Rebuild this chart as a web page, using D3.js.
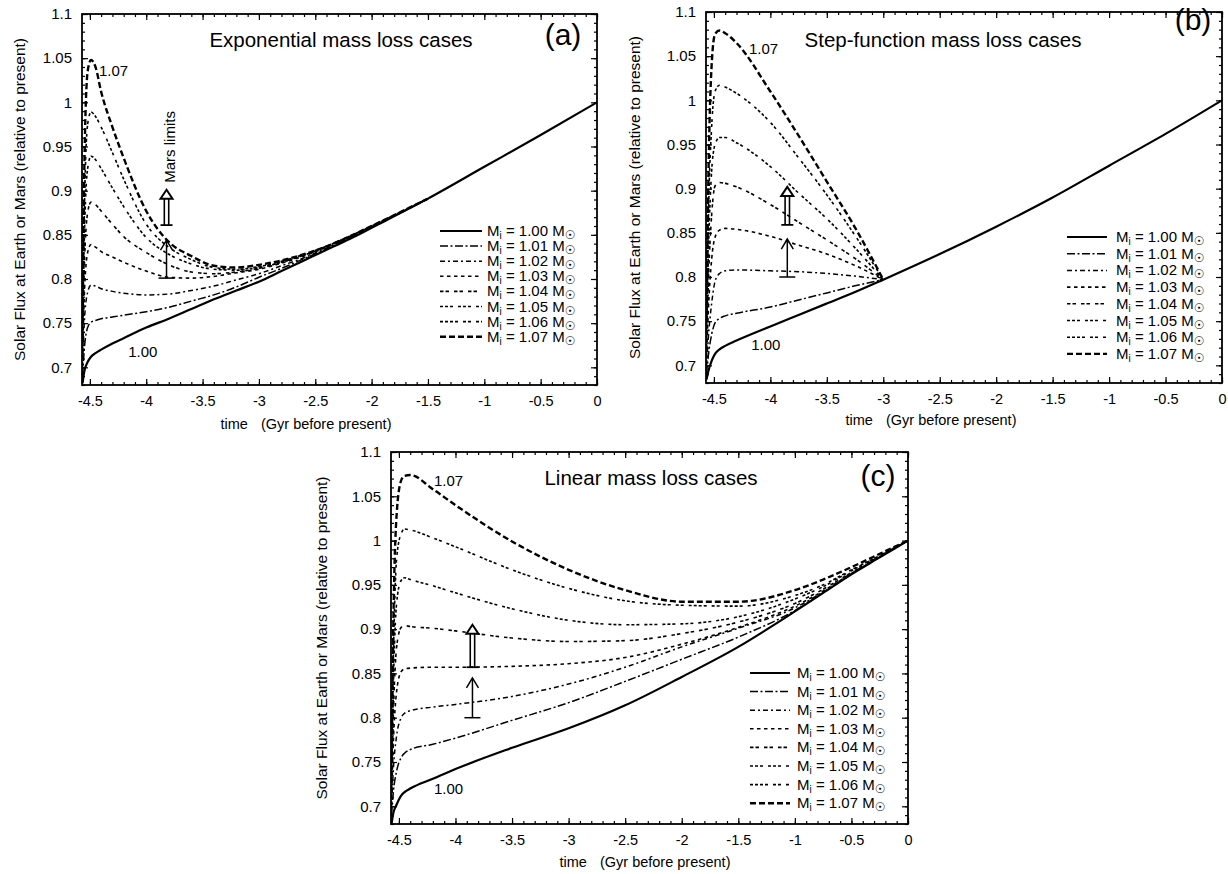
<!DOCTYPE html>
<html><head><meta charset="utf-8">
<script src="https://cdn.jsdelivr.net/npm/d3@7"></script>
<style>body{margin:0;background:#fff} text{font-family:"Liberation Sans",Arial,Helvetica,sans-serif;fill:#000}</style>
</head><body><svg id="c" width="1228" height="874"></svg>
<script>
// ---------- data ----------
const masses = ["1.00","1.01","1.02","1.03","1.04","1.05","1.06","1.07"];
const xTicks = [-4.5,-4,-3.5,-3,-2.5,-2,-1.5,-1,-0.5,0];
const xTickLabels = ["-4.5","-4","-3.5","-3","-2.5","-2","-1.5","-1","-0.5","0"];
const yTicks = [0.7,0.75,0.8,0.85,0.9,0.95,1,1.05,1.1];
const yTickLabels = ["0.7","0.75","0.8","0.85","0.9","0.95","1","1.05","1.1"];

// (a) exponential mass loss
const xA = [-4.565,-4.55,-4.52,-4.49,-4.45,-4.4,-4.3,-4.2,-4.0,-3.8,-3.6,-3.4,-3.2,-3.0,-2.8,-2.6,-2.4,-2.2,-2.0,-1.5,-1.0,-0.5,0];
const a100 = [0.682,0.695,0.706,0.712,0.716,0.720,0.727,0.733,0.745,0.755,0.766,0.777,0.787,0.797,0.809,0.821,0.833,0.845,0.858,0.891,0.927,0.963,1.000];
const a101 = [0.690,0.720,0.745,0.751,0.753,0.755,0.757,0.759,0.763,0.768,0.775,0.782,0.791,0.802,0.812,0.823,0.834,0.846,0.858,0.891,0.927,0.963,1.000];
const a102 = [0.700,0.750,0.785,0.793,0.792,0.789,0.786,0.784,0.782,0.783,0.787,0.792,0.799,0.806,0.815,0.824,0.835,0.847,0.859,0.891,0.927,0.963,1.000];
const a103 = [0.710,0.780,0.830,0.839,0.836,0.831,0.825,0.819,0.809,0.802,0.801,0.803,0.807,0.811,0.818,0.826,0.836,0.847,0.859,0.891,0.927,0.963,1.000];
const a104 = [0.720,0.810,0.875,0.887,0.884,0.877,0.862,0.848,0.830,0.816,0.808,0.806,0.808,0.812,0.819,0.827,0.837,0.848,0.859,0.891,0.927,0.963,1.000];
const a105 = [0.730,0.840,0.925,0.939,0.935,0.925,0.903,0.882,0.847,0.828,0.817,0.811,0.810,0.813,0.819,0.827,0.837,0.848,0.860,0.891,0.927,0.963,1.000];
const a106 = [0.740,0.870,0.975,0.989,0.984,0.972,0.943,0.913,0.862,0.836,0.822,0.813,0.811,0.814,0.820,0.828,0.837,0.848,0.860,0.891,0.927,0.963,1.000];
const a107 = [0.750,0.920,1.035,1.048,1.040,1.012,0.972,0.937,0.877,0.842,0.826,0.815,0.813,0.816,0.821,0.828,0.837,0.848,0.860,0.891,0.927,0.963,1.000];

// (b) step-function mass loss
const xB = [-4.565,-4.55,-4.52,-4.49,-4.45,-4.4,-4.3,-4.0,-3.75,-3.5,-3.25,-3.0,-2.5,-2.0,-1.5,-1.0,-0.5,0];
const b100 = [0.684,0.693,0.705,0.713,0.718,0.722,0.728,0.744,0.757,0.770,0.783,0.797,0.826,0.857,0.890,0.926,0.962,1.000];
const b101 = [0.690,0.710,0.735,0.748,0.753,0.756,0.759,0.766,0.774,0.782,0.790,0.797,0.826,0.857,0.890,0.926,0.962,1.000];
const b102 = [0.700,0.730,0.770,0.795,0.804,0.807,0.808,0.807,0.806,0.804,0.801,0.797,0.826,0.857,0.890,0.926,0.962,1.000];
const b103 = [0.710,0.760,0.820,0.845,0.853,0.855,0.854,0.846,0.836,0.826,0.813,0.797,0.826,0.857,0.890,0.926,0.962,1.000];
const b104 = [0.720,0.790,0.870,0.903,0.907,0.906,0.902,0.882,0.862,0.842,0.821,0.797,0.826,0.857,0.890,0.926,0.962,1.000];
const b105 = [0.730,0.820,0.920,0.950,0.958,0.958,0.952,0.925,0.895,0.866,0.833,0.797,0.826,0.857,0.890,0.926,0.962,1.000];
const b106 = [0.740,0.860,0.970,1.010,1.017,1.015,1.008,0.975,0.935,0.893,0.847,0.797,0.826,0.857,0.890,0.926,0.962,1.000];
const b107 = [0.750,0.900,1.040,1.075,1.079,1.076,1.065,1.010,0.960,0.908,0.856,0.797,0.826,0.857,0.890,0.926,0.962,1.000];

// (c) linear mass loss
const xC = [-4.565,-4.55,-4.52,-4.48,-4.45,-4.4,-4.2,-4.0,-3.5,-3.0,-2.5,-2.0,-1.5,-1.0,-0.75,-0.5,-0.25,0];
const c100 = [0.680,0.692,0.702,0.712,0.716,0.720,0.731,0.742,0.766,0.788,0.814,0.846,0.880,0.920,0.941,0.962,0.981,1.000];
const c101 = [0.690,0.715,0.740,0.755,0.760,0.764,0.770,0.777,0.797,0.817,0.841,0.866,0.891,0.921,0.941,0.962,0.981,1.000];
const c102 = [0.700,0.740,0.780,0.800,0.805,0.808,0.812,0.815,0.824,0.838,0.857,0.880,0.901,0.924,0.942,0.962,0.981,1.000];
const c103 = [0.710,0.770,0.830,0.852,0.855,0.856,0.857,0.857,0.858,0.861,0.868,0.883,0.902,0.926,0.943,0.963,0.981,1.000];
const c104 = [0.720,0.800,0.880,0.902,0.904,0.903,0.901,0.898,0.890,0.886,0.887,0.895,0.908,0.929,0.945,0.964,0.982,1.000];
const c105 = [0.730,0.830,0.930,0.955,0.958,0.956,0.949,0.941,0.923,0.910,0.905,0.906,0.914,0.934,0.948,0.966,0.983,1.000];
const c106 = [0.740,0.860,0.980,1.008,1.013,1.012,1.003,0.993,0.967,0.946,0.932,0.927,0.926,0.938,0.950,0.967,0.983,1.000];
const c107 = [0.750,0.900,1.030,1.068,1.073,1.074,1.058,1.040,0.999,0.967,0.944,0.931,0.931,0.944,0.956,0.970,0.985,1.000];

// arrow annotations (x, lower, upper) in data units
const arrowsA = {x:-3.82, d0:0.861, d1:0.901, s0:0.801, s1:0.844};
const arrowsB = {x:-3.85, d0:0.859, d1:0.902, s0:0.800, s1:0.843};
const arrowsC = {x:-3.85, d0:0.857, d1:0.905, s0:0.800, s1:0.845};

// ---------- styles ----------
const dashes = [null,"8,2.5,2,2.5","5,3,2,3","3.5,3.5","3.5,2,3.5,5","3,2,3,2,3,5","3,2,3,2,3,2,3,5,3,2,3,5","6,3"];
const widths = [2.2,1.5,1.5,1.6,1.6,1.6,1.6,2.4];

const svg = d3.select("#c");
svg.append("rect").attr("width",1228).attr("height",874).attr("fill","#fff");

const panels = [
  {key:"a", left:82, top:14, w:515, h:371, title:"Exponential mass loss cases", tx:259, ty:33, lab:"(a)", lx:481, ly:21,
   xs:xA, series:[a100,a101,a102,a103,a104,a105,a106,a107], leg:{lx0:358,lx1:400,tx:405,y0:217,dy:15.1},
   l107:[-4.42,1.03], l100:[-4.16,0.712], ar:arrowsA, mars:true, ylx:-57, xlx:224, xly:44},
  {key:"b", left:706, top:12, w:516, h:371, title:"Step-function mass loss cases", tx:237, ty:35, lab:"(b)", lx:487, ly:8,
   xs:xB, series:[b100,b101,b102,b103,b104,b105,b106,b107], leg:{lx0:361,lx1:401,tx:410,y0:225,dy:16.7},
   l107:[-4.19,1.052], l100:[-4.17,0.717], ar:arrowsB, mars:false, ylx:-66, xlx:225, xly:42},
  {key:"c", left:391, top:452, w:517, h:372, title:"Linear mass loss cases", tx:260, ty:33, lab:"(c)", lx:487, ly:24,
   xs:xC, series:[c100,c101,c102,c103,c104,c105,c106,c107], leg:{lx0:359,lx1:399,tx:406,y0:221,dy:18.6},
   l107:[-4.19,1.062], l100:[-4.19,0.714], ar:arrowsC, mars:false, ylx:-64, xlx:254, xly:43}
];

panels.forEach(p => {
  const g = svg.append("g").attr("transform",`translate(${p.left},${p.top})`);
  const x = d3.scaleLinear().domain([-4.57,0]).range([0,p.w]);
  const y = d3.scaleLinear().domain([0.68,1.1]).range([p.h,0]);

  const clipId = "clip-"+p.key;
  g.append("clipPath").attr("id",clipId).append("rect").attr("width",p.w).attr("height",p.h);

  // curves (a mass-loss curve stops where it has merged with the 1.00 curve)
  const line = d3.line().x(d=>x(d[0])).y(d=>y(d[1])).curve(d3.curveMonotoneX);
  const cg = g.append("g").attr("clip-path",`url(#${clipId})`);
  const base = p.series[0];
  p.series.forEach((vals,i) => {
    let pts = p.xs.map((xv,k)=>[xv,vals[k]]);
    if (i > 0) {
      let end = pts.length - 1;
      while (end > 1 && vals[end] === base[end] && vals[end-1] === base[end-1]) end--;
      pts = pts.slice(0, end + 1);
    }
    cg.append("path").attr("d",line(pts)).attr("fill","none").attr("stroke","#000")
      .attr("stroke-width",widths[i]).attr("stroke-dasharray",dashes[i]);
  });

  // axes: inward ticks on all sides
  const minorX = d3.range(-45,1).map(v=>v/10);
  const minorY = d3.range(68,111).map(v=>v/100);
  const axB = d3.axisBottom(x).tickValues(xTicks).tickSize(-6).tickPadding(11).tickFormat((d,i)=>xTickLabels[i]);
  const axL = d3.axisLeft(y).tickValues(yTicks).tickSize(-6).tickPadding(10).tickFormat((d,i)=>yTickLabels[i]);
  const gb = g.append("g").attr("transform",`translate(0,${p.h})`).call(axB);
  const gl = g.append("g").call(axL);
  g.append("g").attr("transform",`translate(0,${p.h})`).call(d3.axisBottom(x).tickValues(minorX).tickSize(-3).tickFormat(""));
  g.append("g").call(d3.axisTop(x).tickValues(xTicks).tickSize(-6).tickFormat(""));
  g.append("g").call(d3.axisTop(x).tickValues(minorX).tickSize(-3).tickFormat(""));
  g.append("g").call(d3.axisLeft(y).tickValues(minorY).tickSize(-3).tickFormat(""));
  g.append("g").attr("transform",`translate(${p.w},0)`).call(d3.axisRight(y).tickValues(yTicks).tickSize(-6).tickFormat(""));
  g.append("g").attr("transform",`translate(${p.w},0)`).call(d3.axisRight(y).tickValues(minorY).tickSize(-3).tickFormat(""));
  g.selectAll(".domain").remove();
  g.selectAll(".tick line").attr("stroke","#000").attr("stroke-width",1.2);
  gb.selectAll("text").attr("font-size",14.5).attr("font-family",null);
  gl.selectAll("text").attr("font-size",15).attr("font-family",null);
  g.append("rect").attr("width",p.w).attr("height",p.h).attr("fill","none").attr("stroke","#000").attr("stroke-width",1.8);

  // axis titles
  g.append("text").attr("transform",`translate(${p.ylx},${p.h/2}) rotate(-90)`).attr("text-anchor","middle")
    .attr("font-size",15.5).text("Solar Flux at Earth or Mars (relative to present)");
  const xl = g.append("text").attr("x",p.xlx).attr("y",p.h+p.xly).attr("text-anchor","middle").attr("font-size",14.5);
  xl.append("tspan").text("time");
  xl.append("tspan").attr("dx",13).text("(Gyr before present)");

  // title and panel label
  g.append("text").attr("x",p.tx).attr("y",p.ty).attr("text-anchor","middle").attr("font-size",20.5).text(p.title);
  g.append("text").attr("x",p.lx).attr("y",p.ly+10).attr("text-anchor","middle").attr("font-size",30).text(p.lab);

  // curve labels
  g.append("text").attr("x",x(p.l107[0])).attr("y",y(p.l107[1])).attr("font-size",15).text("1.07");
  g.append("text").attr("x",x(p.l100[0])).attr("y",y(p.l100[1])).attr("font-size",15).text("1.00");

  // legend
  masses.forEach((m,i) => {
    const yy = p.leg.y0 + i*p.leg.dy;
    g.append("line").attr("x1",p.leg.lx0).attr("x2",p.leg.lx1).attr("y1",yy).attr("y2",yy)
      .attr("stroke","#000").attr("stroke-width",widths[i]).attr("stroke-dasharray",dashes[i]);
    const t = g.append("text").attr("x",p.leg.tx).attr("y",yy+5).attr("font-size",15);
    t.append("tspan").text("M");
    t.append("tspan").attr("font-size",10).attr("dy",3).text("i");
    t.append("tspan").attr("dy",-3).text(" = "+m+" M");
    t.append("tspan").attr("font-size",12).attr("dy",3).attr("font-family","DejaVu Sans").attr("font-weight","bold").text("\u2609");
  });

  // Mars-limit arrows
  const a = p.ar, ax = x(a.x);
  const dy0 = y(a.d0), dy1 = y(a.d1);
  const ag = g.append("g").attr("stroke","#000").attr("fill","none");
  ag.append("line").attr("x1",ax-2.2).attr("x2",ax-2.2).attr("y1",dy0).attr("y2",dy1+7).attr("stroke-width",1.6);
  ag.append("line").attr("x1",ax+2.2).attr("x2",ax+2.2).attr("y1",dy0).attr("y2",dy1+7).attr("stroke-width",1.6);
  ag.append("path").attr("d",`M${ax-6},${dy1+9}L${ax},${dy1}L${ax+6},${dy1+9}Z`).attr("stroke-width",2).attr("fill","#fff");
  ag.append("line").attr("x1",ax-6).attr("x2",ax+6).attr("y1",dy0).attr("y2",dy0).attr("stroke-width",1.8);
  const sy0 = y(a.s0), sy1 = y(a.s1);
  ag.append("line").attr("x1",ax).attr("x2",ax).attr("y1",sy0).attr("y2",sy1).attr("stroke-width",1.5);
  ag.append("path").attr("d",`M${ax-6},${sy1+10}L${ax},${sy1}L${ax+6},${sy1+10}`).attr("stroke-width",1.5);
  ag.append("line").attr("x1",ax-8).attr("x2",ax+8).attr("y1",sy0).attr("y2",sy0).attr("stroke-width",1.5);
  if (p.mars) {
    g.append("text").attr("transform",`translate(${ax+8},${dy1-7}) rotate(-90)`).attr("font-size",15).text("Mars limits");
  }
});
</script></body></html>
